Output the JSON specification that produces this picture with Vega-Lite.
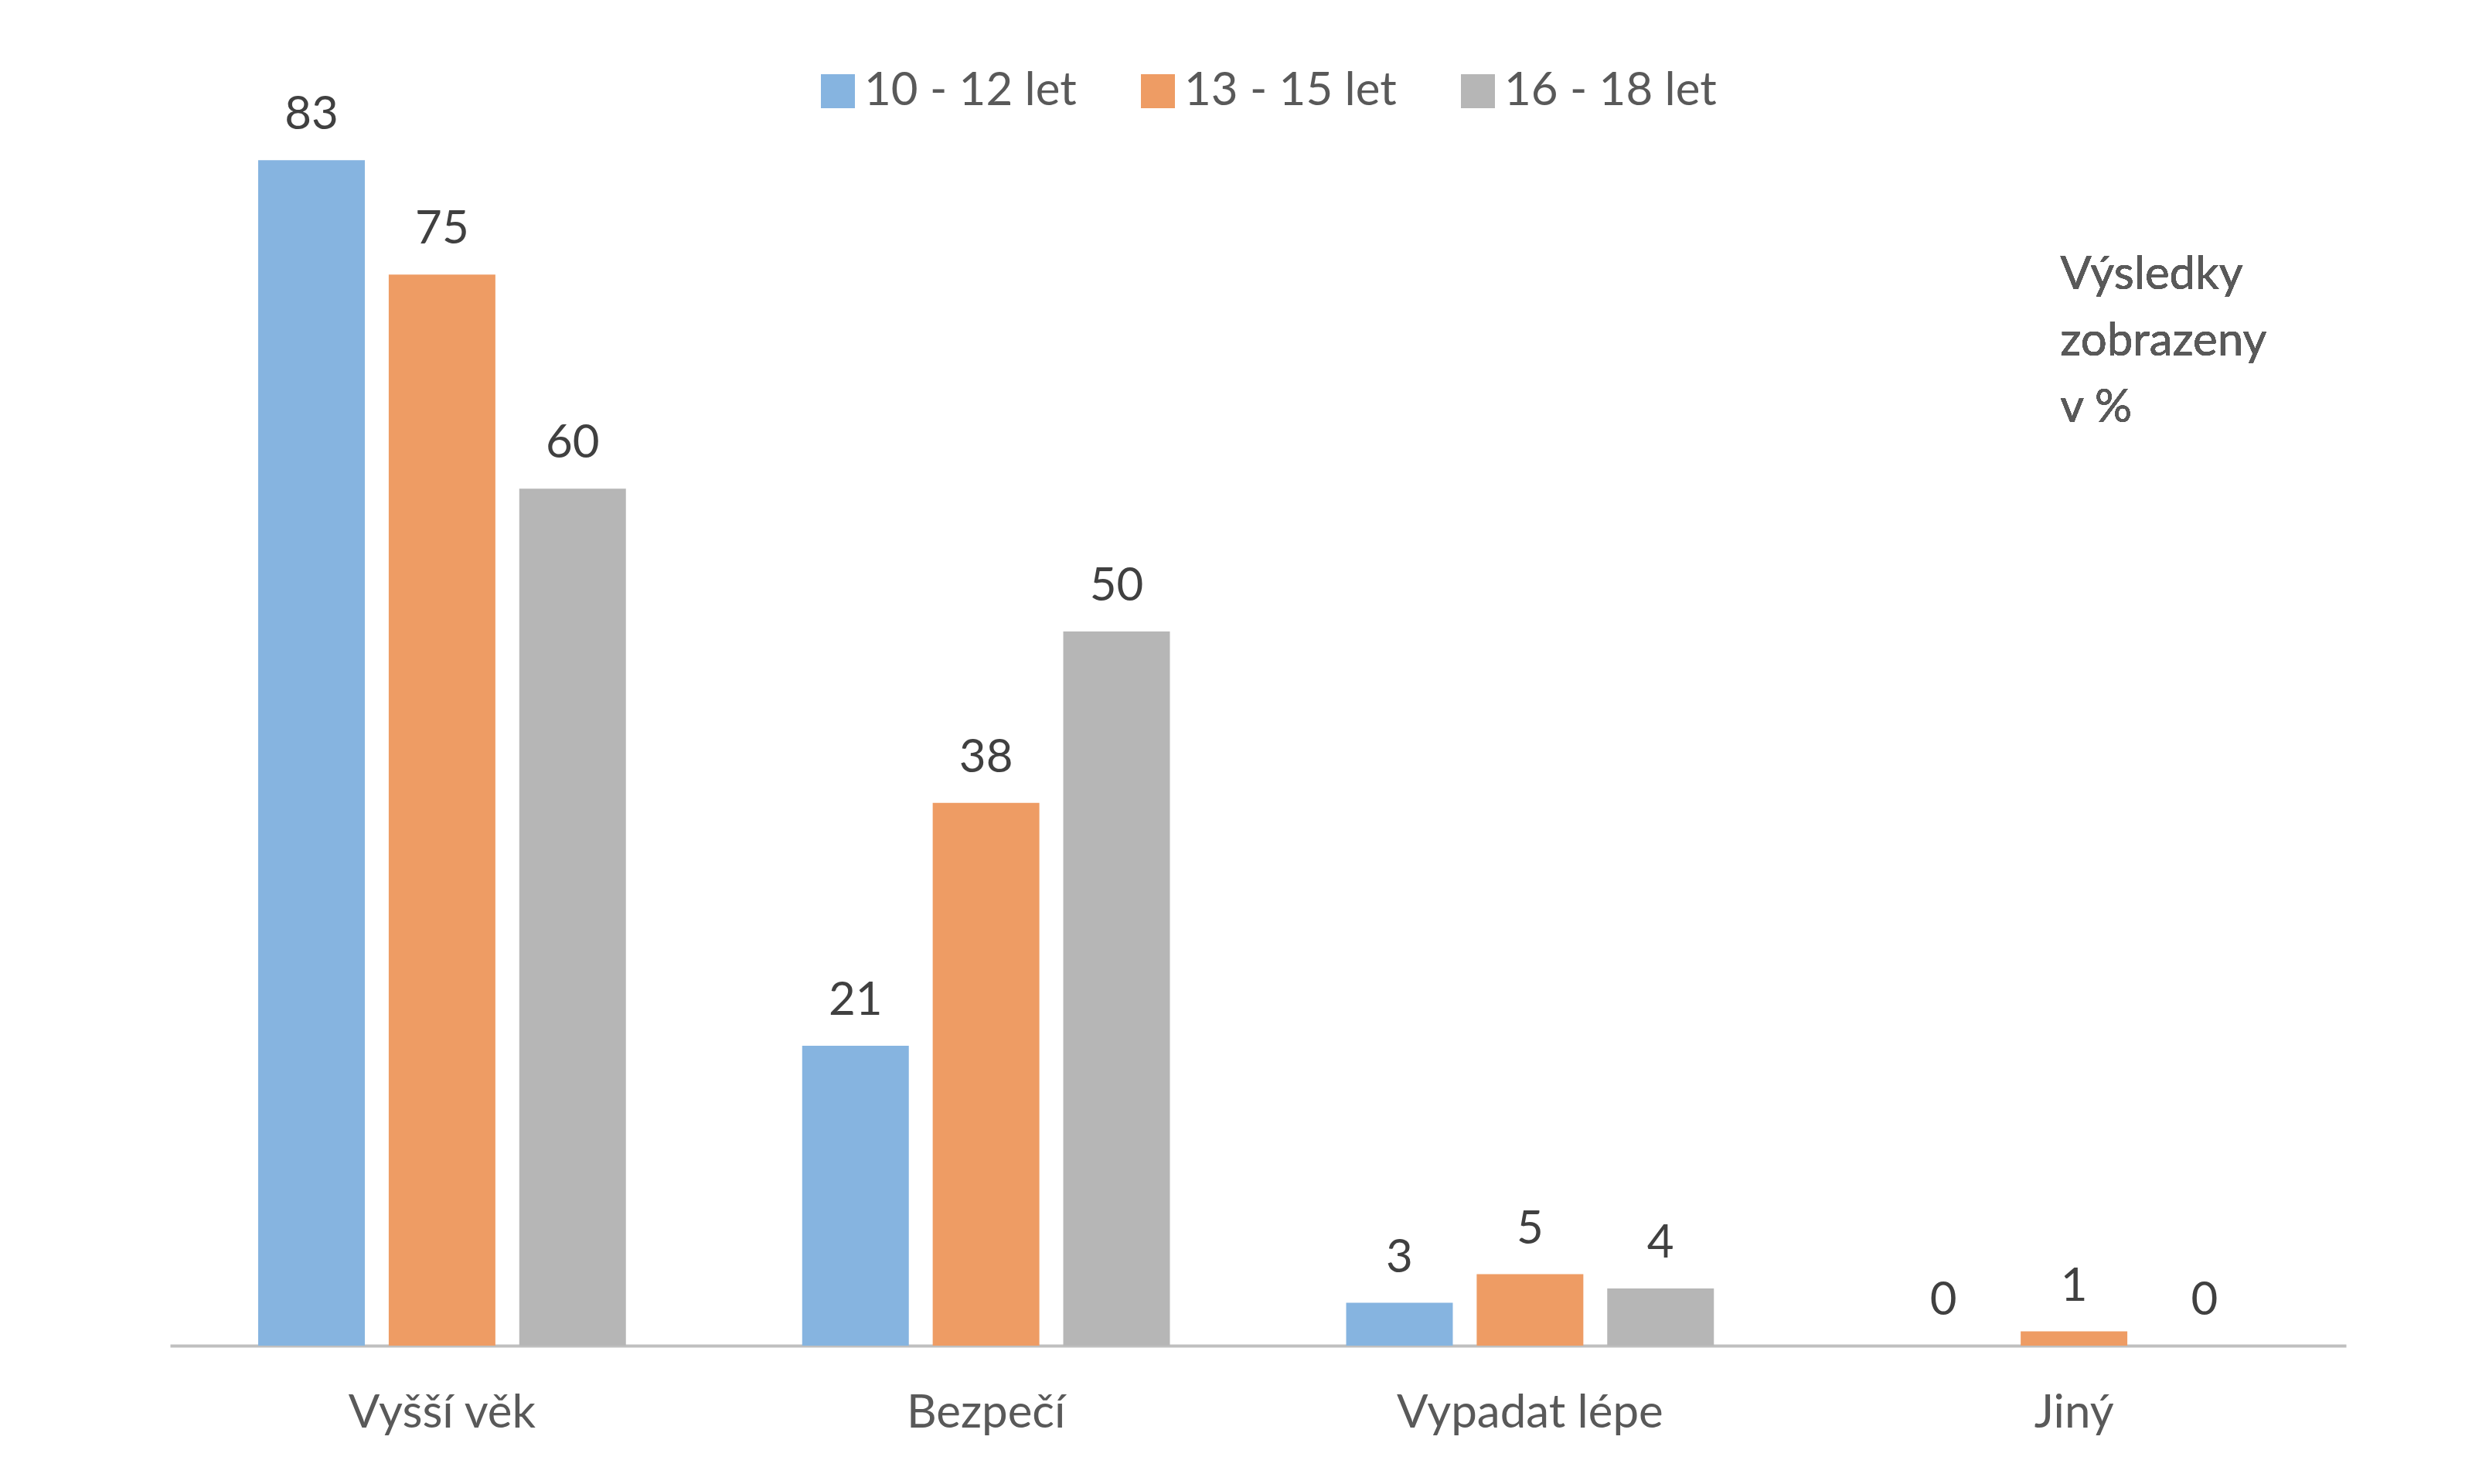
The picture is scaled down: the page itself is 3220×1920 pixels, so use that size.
{
  "$schema": "https://vega.github.io/schema/vega-lite/v6.json",
  "autosize": {"type": "none"},
  "padding": {"left": 220, "top": 78, "right": 185, "bottom": 179},
  "width": 2815,
  "height": 1663,
  "background": "white",
  "config": {
    "font": "Lato",
    "view": {"stroke": null}
  },
  "data": {
    "values": [
      {"kategorie": "Vyšší věk", "skupina": "10 - 12 let", "hodnota": 83},
      {"kategorie": "Vyšší věk", "skupina": "13 - 15 let", "hodnota": 75},
      {"kategorie": "Vyšší věk", "skupina": "16 - 18 let", "hodnota": 60},
      {"kategorie": "Bezpečí", "skupina": "10 - 12 let", "hodnota": 21},
      {"kategorie": "Bezpečí", "skupina": "13 - 15 let", "hodnota": 38},
      {"kategorie": "Bezpečí", "skupina": "16 - 18 let", "hodnota": 50},
      {"kategorie": "Vypadat lépe", "skupina": "10 - 12 let", "hodnota": 3},
      {"kategorie": "Vypadat lépe", "skupina": "13 - 15 let", "hodnota": 5},
      {"kategorie": "Vypadat lépe", "skupina": "16 - 18 let", "hodnota": 4},
      {"kategorie": "Jiný", "skupina": "10 - 12 let", "hodnota": 0},
      {"kategorie": "Jiný", "skupina": "13 - 15 let", "hodnota": 1},
      {"kategorie": "Jiný", "skupina": "16 - 18 let", "hodnota": 0}
    ]
  },
  "encoding": {
    "x": {
      "field": "kategorie",
      "type": "nominal",
      "sort": ["Vyšší věk", "Bezpečí", "Vypadat lépe", "Jiný"],
      "scale": {"paddingInner": 0.324, "paddingOuter": 0.162},
      "axis": {
        "title": null,
        "labelAngle": 0,
        "ticks": false,
        "domainColor": "#BFBFBF",
        "domainWidth": 4,
        "labelFont": "Lato",
        "labelFontSize": 60,
        "labelColor": "#595959",
        "labelPadding": 58,
        "labelLimit": 1000
      }
    },
    "xOffset": {
      "field": "skupina",
      "type": "nominal",
      "sort": ["10 - 12 let", "13 - 15 let", "16 - 18 let"],
      "scale": {"paddingInner": 0.183, "paddingOuter": 0}
    },
    "y": {
      "field": "hodnota",
      "type": "quantitative",
      "scale": {"domain": [0, 90], "nice": false},
      "axis": null
    }
  },
  "layer": [
    {
      "mark": {"type": "bar"},
      "encoding": {
        "color": {
          "field": "skupina",
          "type": "nominal",
          "sort": ["10 - 12 let", "13 - 15 let", "16 - 18 let"],
          "scale": {
            "domain": ["10 - 12 let", "13 - 15 let", "16 - 18 let"],
            "range": ["#86B4E0", "#EE9C64", "#B6B6B6"]
          },
          "legend": {
            "title": null,
            "orient": "none",
            "direction": "horizontal",
            "legendX": 834,
            "legendY": 10,
            "padding": 0,
            "symbolType": "square",
            "symbolSize": 1936,
            "symbolStrokeWidth": 0,
            "symbolOpacity": 1,
            "labelFont": "Lato",
            "labelFontSize": 60,
            "labelColor": "#595959",
            "labelOffset": 4,
            "columnPadding": 75,
            "labelLimit": 1000
          }
        }
      }
    },
    {
      "mark": {
        "type": "text",
        "baseline": "alphabetic",
        "dy": -40,
        "fontSize": 60,
        "font": "Lato",
        "color": "#404040"
      },
      "encoding": {
        "text": {"field": "hodnota", "type": "quantitative"}
      }
    },
    {
      "mark": {
        "type": "text",
        "align": "left",
        "baseline": "alphabetic",
        "dx": -18,
        "fontSize": 60,
        "font": "Lato",
        "color": "#595959",
        "lineHeight": 86,
        "lineBreak": "\n",
        "text": "Výsledky\nzobrazeny\nv %"
      },
      "encoding": {
        "x": {"datum": "Jiný"},
        "xOffset": {"datum": "13 - 15 let"},
        "y": {"datum": 74}
      }
    }
  ]
}
